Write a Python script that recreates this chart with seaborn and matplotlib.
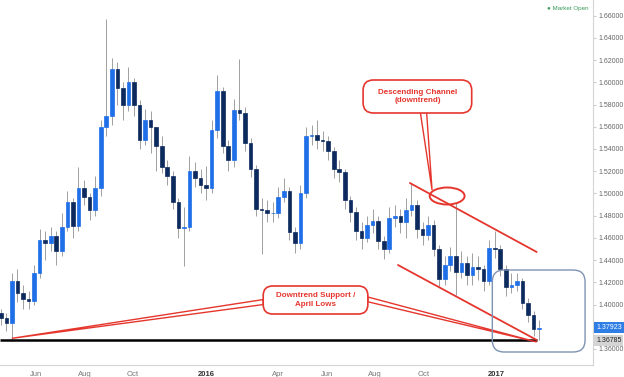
import matplotlib
matplotlib.use("Agg")
import matplotlib.pyplot as plt
import matplotlib.dates as mdates
import matplotlib.transforms as mtransforms
from matplotlib.patches import FancyBboxPatch, Ellipse, Polygon
import numpy as np
import pandas as pd
import seaborn as sns

# weekly candles (week ending Friday)
first_open = 1.392
closes = [1.388, 1.383, 1.421, 1.410, 1.405, 1.403, 1.428, 1.458, 1.455, 1.462,
          1.448, 1.470, 1.492, 1.471, 1.505, 1.497, 1.485, 1.505, 1.560, 1.570,
          1.612, 1.595, 1.580, 1.600, 1.580, 1.548, 1.566, 1.560, 1.543, 1.524,
          1.516, 1.492, 1.469, 1.470, 1.520, 1.514, 1.508, 1.505, 1.557, 1.592,
          1.543, 1.530, 1.575, 1.572, 1.545, 1.522, 1.486, 1.485, 1.482, 1.482,
          1.497, 1.502, 1.465, 1.455, 1.500, 1.552, 1.553, 1.548, 1.547, 1.538,
          1.522, 1.519, 1.494, 1.483, 1.466, 1.460, 1.472, 1.475, 1.457, 1.450,
          1.478, 1.480, 1.474, 1.485, 1.490, 1.468, 1.463, 1.472, 1.450, 1.423,
          1.436, 1.444, 1.429, 1.437, 1.427, 1.434, 1.432, 1.421, 1.451, 1.450,
          1.432, 1.416, 1.418, 1.421, 1.401, 1.391, 1.378, 1.37923]
highs = [1.396, 1.392, 1.428, 1.432, 1.418, 1.412, 1.436, 1.468, 1.466, 1.470,
         1.466, 1.482, 1.502, 1.496, 1.524, 1.512, 1.500, 1.516, 1.566, 1.657,
         1.622, 1.618, 1.600, 1.614, 1.604, 1.584, 1.576, 1.574, 1.560, 1.552,
         1.530, 1.520, 1.496, 1.488, 1.534, 1.528, 1.522, 1.525, 1.566, 1.607,
         1.596, 1.548, 1.585, 1.621, 1.578, 1.550, 1.526, 1.496, 1.494, 1.492,
         1.506, 1.514, 1.506, 1.470, 1.508, 1.560, 1.562, 1.566, 1.556, 1.552,
         1.542, 1.530, 1.522, 1.498, 1.488, 1.474, 1.480, 1.486, 1.480, 1.462,
         1.488, 1.490, 1.486, 1.496, 1.509, 1.494, 1.474, 1.480, 1.476, 1.454,
         1.444, 1.452, 1.491, 1.448, 1.444, 1.446, 1.444, 1.436, 1.458, 1.466,
         1.454, 1.436, 1.428, 1.428, 1.424, 1.406, 1.394, 1.386]
lows = [1.382, 1.376, 1.3675, 1.402, 1.396, 1.396, 1.400, 1.424, 1.440, 1.448,
        1.436, 1.444, 1.466, 1.460, 1.466, 1.490, 1.476, 1.480, 1.498, 1.552,
        1.562, 1.580, 1.566, 1.574, 1.570, 1.540, 1.544, 1.536, 1.520, 1.518,
        1.508, 1.486, 1.460, 1.4345, 1.466, 1.506, 1.500, 1.494, 1.500, 1.550,
        1.536, 1.520, 1.524, 1.566, 1.538, 1.515, 1.480, 1.4455, 1.474, 1.474,
        1.478, 1.492, 1.458, 1.446, 1.450, 1.496, 1.544, 1.540, 1.538, 1.530,
        1.514, 1.510, 1.486, 1.474, 1.458, 1.450, 1.456, 1.464, 1.450, 1.441,
        1.446, 1.470, 1.464, 1.460, 1.480, 1.460, 1.454, 1.458, 1.444, 1.416,
        1.418, 1.430, 1.409, 1.424, 1.418, 1.418, 1.422, 1.412, 1.418, 1.442,
        1.426, 1.408, 1.410, 1.412, 1.396, 1.384, 1.372, 1.36785]
week_dates = pd.date_range("2015-04-17", periods=len(closes), freq="7D")

last_price = 1.37923
support_price = 1.36785
y_ticks = [1.36, 1.38, 1.40, 1.42, 1.44, 1.46, 1.48, 1.50, 1.52, 1.54,
           1.56, 1.58, 1.60, 1.62, 1.64, 1.66]
tick_dates = ["2015-06-01", "2015-08-01", "2015-10-01", "2016-01-01", "2016-04-01",
              "2016-06-01", "2016-08-01", "2016-10-01", "2017-01-01"]
tick_labels = ["Jun", "Aug", "Oct", "2016", "Apr", "Jun", "Aug", "Oct", "2017"]

# annotation anchors (date, price)
upper_channel = [("2016-09-14", 1.5094), ("2017-02-21", 1.4473)]
lower_channel = [("2016-08-30", 1.4356), ("2017-02-21", 1.3681)]
support_left = [("2015-05-01", 1.3696), ("2016-03-13", 1.4045), ("2016-03-13", 1.4000)]
support_right = [("2017-02-21", 1.3663), ("2016-07-23", 1.4068), ("2016-07-23", 1.4025)]
channel_pointer = [("2016-10-12", 1.5030), ("2016-09-27", 1.5740), ("2016-10-05", 1.5740)]

UP = "#1f6fe8"
DOWN = "#0d2a5e"
WICK = "#a0a0a0"
RED = "#e5362e"

sns.set_style("white")
plt.rcParams["font.family"] = ["Liberation Sans", "DejaVu Sans"]

fig = plt.figure(figsize=(6.24, 3.77), dpi=100)
ax = fig.add_axes([0, 12 / 377, 593 / 624, 365 / 377])

opens = [first_open] + closes[:-1]
df = pd.DataFrame({"date": week_dates, "open": opens, "high": highs,
                   "low": lows, "close": closes})
xs = mdates.date2num(df["date"])
colors = np.where(df["close"] >= df["open"], UP, DOWN)
ax.vlines(xs, df["low"], df["high"], color=WICK, lw=0.7, zorder=2)
ax.bar(xs, df["close"] - df["open"], bottom=df["open"], width=4.6,
       color=colors, edgecolor=colors, linewidth=0.5, zorder=3)

d = lambda s: mdates.date2num(pd.Timestamp(s))
x_left, x_right = d("2015-04-16"), d("2017-05-03")
ax.set_xlim(x_left, x_right)
ax.set_ylim(1.3456, 1.6741)

# support line + trendlines
ax.hlines(support_price, x_left, d("2017-02-21"), color="black", lw=1.8, zorder=4)
for line in (upper_channel, lower_channel):
    ax.plot([d(p[0]) for p in line], [p[1] for p in line], color=RED, lw=1.3, zorder=4)

for wedge in (support_left, support_right, channel_pointer):
    pts = [(d(p[0]), p[1]) for p in wedge]
    ax.add_patch(Polygon(pts, closed=True, fc="white", ec=RED, lw=1.0, zorder=5))

aspect = 7.13e-4
box1 = FancyBboxPatch((d("2016-03-13"), 1.3915), d("2016-07-23") - d("2016-03-13"), 0.0252,
                      boxstyle="round,pad=0,rounding_size=12", mutation_aspect=aspect,
                      fc="white", ec=RED, lw=1.2, zorder=6)
box2 = FancyBboxPatch((d("2016-07-17"), 1.5724), d("2016-12-01") - d("2016-07-17"), 0.0297,
                      boxstyle="round,pad=0,rounding_size=13", mutation_aspect=aspect,
                      fc="white", ec=RED, lw=1.2, zorder=6)
box3 = FancyBboxPatch((d("2016-12-27"), 1.3573), d("2017-04-23") - d("2016-12-27"), 0.0738,
                      boxstyle="round,pad=0,rounding_size=15", mutation_aspect=aspect,
                      fc="none", ec="#7d93b2", lw=1.0, zorder=5)
for b in (box1, box2, box3):
    ax.add_patch(b)

ax.text(d("2016-05-18"), 1.4041, "Downtrend Support /\nApril Lows", ha="center", va="center",
        fontsize=5.8, fontweight="bold", color=RED, linespacing=1.25, zorder=7)
ax.text(d("2016-09-24"), 1.5875, "Descending Channel\n(downtrend)", ha="center", va="center",
        fontsize=5.8, fontweight="bold", color=RED, linespacing=1.25, zorder=7)
ax.add_patch(Ellipse((d("2016-10-31"), 1.4977), width=44, height=0.0153,
                     fill=False, ec=RED, lw=1.4, zorder=6))

ax.text(0.993, 0.977, "\u25cf Market Open", transform=ax.transAxes, ha="right",
        va="center", fontsize=4.5, color="#3a9a5a")

# axes styling (1.38000 sits under the last-price tag, as in the original)
ax.yaxis.tick_right()
ax.set_yticks(y_ticks)
ax.set_yticklabels(["" if v == 1.38 else f"{v:.5f}" for v in y_ticks])
ax.set_xticks([d(t) for t in tick_dates])
ax.set_xticklabels(tick_labels)
for lbl in ax.get_xticklabels():
    if lbl.get_text() in ("2016", "2017"):
        lbl.set_fontweight("bold")
        lbl.set_color("#333333")
    else:
        lbl.set_color("#777777")
ax.tick_params(axis="x", length=2, pad=2, labelsize=5.5, color="#cccccc")
ax.tick_params(axis="y", length=2, pad=2, labelsize=5, colors="#666666")
ax.tick_params(axis="y", color="#cccccc")
for side in ("top", "left"):
    ax.spines[side].set_visible(False)
for side in ("right", "bottom"):
    ax.spines[side].set_color("#d5d5d5")
    ax.spines[side].set_linewidth(0.8)

trans = mtransforms.blended_transform_factory(ax.transAxes, ax.transData)
ax.text(1.0 + 3 / 593, last_price, f"{last_price:.5f}", transform=trans, ha="left", va="center",
        fontsize=5, color="white", clip_on=False, zorder=8,
        bbox=dict(boxstyle="square,pad=0.3", fc="#2f7ee6", ec="none"))
ax.text(1.0 + 3 / 593, support_price, f"{support_price:.5f}", transform=trans, ha="left",
        va="center", fontsize=5, color="#222222", clip_on=False, zorder=8,
        bbox=dict(boxstyle="square,pad=0.3", fc="#d4d4d4", ec="none"))

fig.savefig("out.png", dpi=100)
